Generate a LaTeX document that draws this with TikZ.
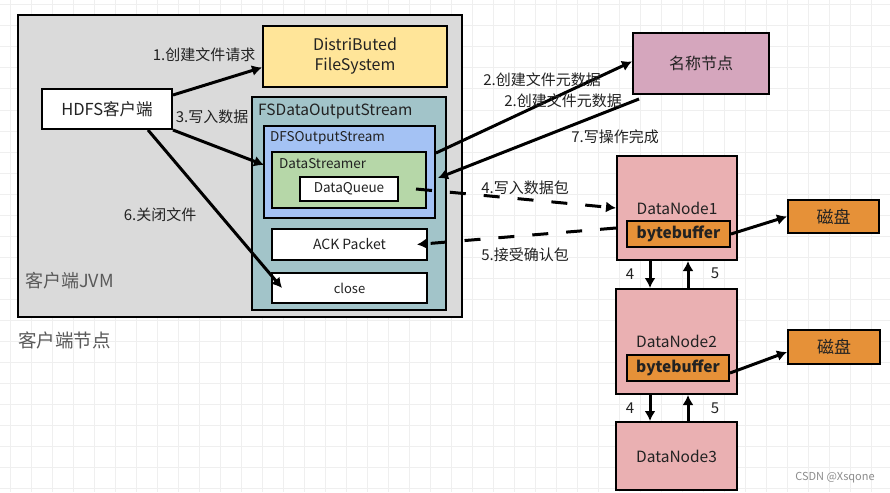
\documentclass[tikz,border=0pt]{standalone}
\usepackage{fontspec}
\setmainfont{Noto Sans CJK SC}
\usetikzlibrary{arrows.meta,calc}
\definecolor{gridc}{HTML}{EFEFEF}
\definecolor{jvmc}{HTML}{DADADA}
\definecolor{dfsc}{HTML}{FFE599}
\definecolor{fsdc}{HTML}{A2C4C9}
\definecolor{dfsoc}{HTML}{A4C2F4}
\definecolor{dsc}{HTML}{B6D7A8}
\definecolor{nnc}{HTML}{D5A6BD}
\definecolor{dnc}{HTML}{EAB0B2}
\definecolor{orc}{HTML}{E69138}
\definecolor{txtc}{HTML}{222222}
\tikzset{
  box/.style={draw=black,line width=2pt,rectangle,inner sep=0pt,text=txtc},
  lbl/.style={inner sep=0pt,text=txtc,font=\fontsize{15}{17}\selectfont},
  arr/.style={line width=3pt,-{Latex[length=10pt,width=11pt]}},
  darr/.style={arr,dash pattern=on 16pt off 18pt},
  num/.style={inner sep=0pt,text=txtc,font=\fontsize{15}{17}\selectfont}
}
\begin{document}
\begin{tikzpicture}[x=1pt,y=-1pt]
\useasboundingbox[fill=white] (0,0) rectangle (890,492);
\foreach \i in {0,...,42} \draw[gridc,line width=1pt] (10.7+21*\i,0) -- (10.7+21*\i,492);
\foreach \i in {0,...,23} \draw[gridc,line width=1pt] (0,5+21*\i) -- (890,5+21*\i);

% client JVM
\node[box,fill=jvmc,minimum width=444pt,minimum height=302pt] (jvm) at (240,166) {};
\node[lbl,anchor=west,text=black!65,font=\fontsize{18}{20}\selectfont] (jvml) at (25,281) {客户端JVM};
\node[lbl,anchor=west,text=black!65,font=\fontsize{18.5}{20}\selectfont] (nodel) at (18,340) {客户端节点};

\node[box,fill=dfsc,minimum width=184pt,minimum height=61pt,align=center,font=\fontsize{16}{20}\selectfont] (dfs) at (355,56.5) {DistriButed\\FileSystem};
\node[box,fill=white,minimum width=130pt,minimum height=40pt,font=\fontsize{16.5}{18}\selectfont] (hdfs) at (107,109) {HDFS客户端};

\node[box,fill=fsdc,minimum width=194pt,minimum height=213pt] (fsd) at (349,203.5) {};
\node[lbl,anchor=west,font=\fontsize{15.5}{17}\selectfont] (fsdl) at (258,111) {FSDataOutputStream};
\node[box,fill=dfsoc,minimum width=171pt,minimum height=92pt] (dfso) at (349.5,172) {};
\node[lbl,anchor=west,font=\fontsize{13.5}{15}\selectfont] (dfsol) at (270,138) {DFSOutputStream};
\node[box,fill=dsc,minimum width=154pt,minimum height=56pt] (ds) at (349,180) {};
\node[lbl,anchor=west,font=\fontsize{13.5}{15}\selectfont] (dsl) at (279,164) {DataStreamer};
\node[box,fill=white,minimum width=98pt,minimum height=24pt,font=\fontsize{13.5}{15}\selectfont] (dq) at (349,189) {DataQueue};
\node[box,fill=white,minimum width=155pt,minimum height=31pt,font=\fontsize{14}{16}\selectfont] (ack) at (349.5,244.5) {ACK Packet};
\node[box,fill=white,minimum width=155pt,minimum height=30pt,font=\fontsize{13}{15}\selectfont] (close) at (349.5,288) {close};

% right side
\node[box,fill=nnc,minimum width=136pt,minimum height=61pt,font=\fontsize{16}{18}\selectfont] (nn) at (701,63.5) {名称节点};
\node[box,fill=dnc,minimum width=120pt,minimum height=104pt,font=\fontsize{15.5}{17}\selectfont] (dn1) at (677,208) {DataNode1};
\node[box,fill=orc,minimum width=103pt,minimum height=26pt,font=\bfseries\fontsize{15.5}{17}\selectfont] (bb1) at (678.5,234) {bytebuffer};
\node[box,fill=orc,minimum width=91pt,minimum height=33pt,font=\fontsize{17}{19}\selectfont] (disk1) at (833.5,216.5) {磁盘};
\node[box,fill=dnc,minimum width=121pt,minimum height=105pt,font=\fontsize{15.5}{17}\selectfont] (dn2) at (676.5,341.5) {DataNode2};
\node[box,fill=orc,minimum width=102pt,minimum height=26pt,font=\bfseries\fontsize{15.5}{17}\selectfont] (bb2) at (678,368) {bytebuffer};
\node[box,fill=orc,minimum width=92pt,minimum height=34pt,font=\fontsize{17}{19}\selectfont] (disk2) at (834,347) {磁盘};
\node[box,fill=dnc,minimum width=121pt,minimum height=68pt,font=\fontsize{15.5}{17}\selectfont] (dn3) at (676.5,456) {DataNode3};

% arrows in client
\draw[arr] ([yshift=14pt]hdfs.east) -- ([yshift=-11pt]dfs.west);
\node[lbl] (l1) at (204,55) {1.创建文件请求};
\draw[arr] (hdfs.south east) -- ([xshift=-7pt,yshift=15pt]ds.west);
\node[lbl] (l3) at (212,117) {3.写入数据};
\draw[arr] ([xshift=41pt]hdfs.south) -- ([xshift=11pt]close.west);
\node[lbl] (l6) at (160,215) {6.关闭文件};

% name node arrows
\draw[arr] ([yshift=19pt]dfso.east) -- ([yshift=2pt]nn.west);
\node[lbl] (l2a) at (542,80) {2.创建文件元数据};
\draw[arr] ([xshift=7pt,yshift=-4pt]nn.south west) -- ([xshift=2pt,yshift=-6pt]dfso.east);
\node[lbl] (l2b) at (563,101) {2.创建文件元数据};
\node[lbl] (l7) at (615,137) {7.写操作完成};

% data node dashed arrows
\draw[darr] ([xshift=17pt]dq.east) -- (dn1.west);
\node[lbl] (l4) at (525,188) {4.写入数据包};
\draw[darr] ([yshift=-20pt]dn1.west) -- ([xshift=-11pt]ack.east);
\node[lbl] (l5) at (525,255) {5.接受确认包};

% disks
\draw[arr] (bb1.east) -- (disk1.west);
\draw[arr] ([yshift=-5pt]bb2.east) -- ([yshift=-5pt]disk2.west);

% pipeline
\draw[arr] ([xshift=-27pt]dn1.south) -- ([xshift=-26.5pt]dn2.north);
\draw[arr] ([xshift=11.5pt]dn2.north) -- ([xshift=11pt]dn1.south);
\draw[arr] ([xshift=-26.5pt]dn2.south) -- ([xshift=-26.5pt]dn3.north);
\draw[arr] ([xshift=11.5pt]dn3.north) -- ([xshift=11.5pt]dn2.south);
\node[num] (n4a) at (630,274) {4};
\node[num] (n5a) at (715,273) {5};
\node[num] (n4b) at (630,408) {4};
\node[num] (n5b) at (715,408) {5};

\node[inner sep=0pt,text=black!45,font=\fontsize{11}{13}\selectfont] (wm) at (835,478) {CSDN @Xsqone};
\end{tikzpicture}
\end{document}
